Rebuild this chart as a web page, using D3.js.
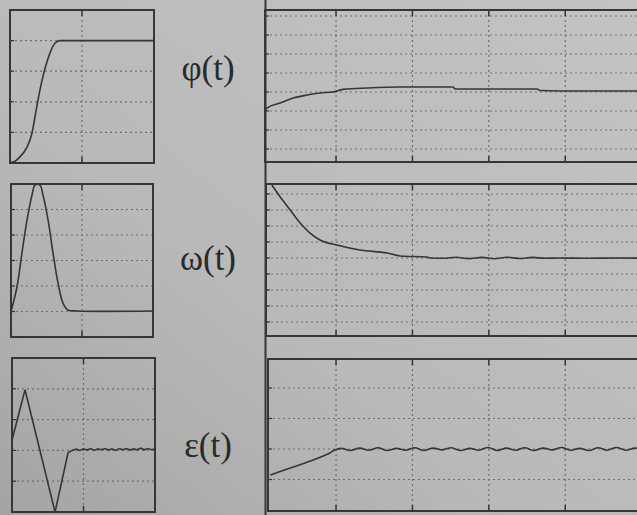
<!DOCTYPE html>
<html>
<head>
<meta charset="utf-8">
<script src="https://cdn.jsdelivr.net/npm/d3@7"></script>
<style>
  body { margin: 0; background: #b8b8b8; }
  svg { display: block; }
</style>
</head>
<body>
<div id="plot"></div>
<script>
// curves: [t, value], value counted in grid divisions
const phiSmall = [[0,0.02],[0.35,0.06],[0.69,0.2],[1.18,0.52],[1.53,0.98],[1.75,1.55],[1.97,2.12],[2.2,2.65],[2.45,3.12],[2.78,3.6],[3.13,3.92],[3.47,4.0],[10,4.0]];
const omegaSmall = [[0,1.0],[0.42,1.96],[0.77,3.29],[1.13,4.59],[1.48,5.57],[1.69,5.96],[2.04,5.96],[2.25,5.57],[2.61,4.59],[2.96,3.29],[3.31,2.12],[3.66,1.33],[4.01,1.06],[4.65,1.02],[10,1.02]];
const epsSmall = [[0,2.34],[0.91,3.97],[3.01,0.0],[3.92,1.92],[4.2,2.0],[4.5,2.04],[4.75,2.0],[5.0,2.05],[5.25,2.01],[5.5,2.06],[5.75,2.0],[6.0,2.05],[6.25,2.02],[6.5,2.06],[6.75,2.01],[7.0,2.05],[7.25,2.0],[7.5,2.06],[7.75,2.02],[8.0,2.06],[8.25,2.01],[8.5,2.05],[8.75,2.02],[9.0,2.07],[9.25,2.02],[9.5,2.06],[9.75,2.02],[10,2.05]];

const phiBig = [[0,3.05],[0.03,3.16],[0.2,3.42],[0.37,3.68],[0.55,3.84],[0.72,3.95],[0.89,4.0],[1.02,4.14],[1.34,4.21],[1.77,4.26],[2.46,4.26],[2.49,4.16],[3.56,4.16],[3.6,4.08],[4.12,4.05],[5,4.05]];
const omegaBig = [[0.09,9.56],[0.2,8.81],[0.33,8.0],[0.46,7.19],[0.59,6.56],[0.72,6.125],[0.94,5.81],[1.24,5.5],[1.6,5.31],[1.77,5.125],[2.12,5.06],[2.16,5.0],[2.34,4.98],[2.5,5.05],[2.67,4.96],[2.84,5.04],[3.0,4.95],[3.17,5.05],[3.34,4.97],[3.5,5.04],[3.67,4.98],[3.84,5.0],[4.2,4.98],[4.6,5.0],[5,4.98]];
const epsBig = [[0.07,1.15],[0.37,1.41],[0.63,1.64],[0.85,1.87],[0.9,1.95],[1.0,2.02],[1.12,1.95],[1.24,2.03],[1.36,1.96],[1.48,2.04],[1.6,1.95],[1.72,2.02],[1.84,1.96],[1.96,2.04],[2.08,1.95],[2.2,2.03],[2.32,1.97],[2.44,2.04],[2.56,1.95],[2.68,2.02],[2.8,1.96],[2.92,2.05],[3.04,1.95],[3.16,2.03],[3.28,1.96],[3.4,2.04],[3.52,1.95],[3.64,2.03],[3.76,1.97],[3.88,2.05],[4.0,1.96],[4.12,2.02],[4.24,1.95],[4.36,2.04],[4.48,1.96],[4.6,2.05],[4.72,1.96],[4.84,2.03],[4.96,1.97]];

// grid positions, in data units
const smallVGrid = [5];
const bigVGrid = [0.93, 1.93, 2.93, 3.93];
const labels = ["φ(t)", "ω(t)", "ε(t)"];

window.addEventListener("load", main)

function main(){

  const width = 637, height = 515;
  let svg = d3.select("#plot").append("svg")
    .attr("width", width)
    .attr("height", height);

  // scanned paper look
  let defs = svg.append("defs");
  let grad = defs.append("linearGradient").attr("id", "paper")
    .attr("x1", "1").attr("y1", "0").attr("x2", "0").attr("y2", "1");
  grad.append("stop").attr("offset", "0").attr("stop-color", "#c3c3c3");
  grad.append("stop").attr("offset", "0.6").attr("stop-color", "#b9b9b9");
  grad.append("stop").attr("offset", "1").attr("stop-color", "#a4a4a4");
  svg.append("rect").attr("width", width).attr("height", height).attr("fill", "url(#paper)");

  const ink = "#363636", gridInk = "#6f6f6f";

  // one scope screen
  function drawPanel(p){
    let x = d3.scaleLinear().domain(p.xDomain).range(p.xRange);
    let y = d3.scaleLinear().domain(p.yDomain).range(p.yRange);
    let g = svg.append("g");

    g.selectAll("line.h").data(p.hGrid).join("line").attr("class", "h")
      .attr("x1", p.frame[0]).attr("x2", p.frame[1])
      .attr("y1", d => y(d)).attr("y2", d => y(d))
      .attr("stroke", gridInk).attr("stroke-width", 1.2)
      .attr("stroke-dasharray", "2,3");
    g.selectAll("line.v").data(p.vGrid).join("line").attr("class", "v")
      .attr("x1", d => x(d)).attr("x2", d => x(d))
      .attr("y1", p.frame[2]).attr("y2", p.frame[3])
      .attr("stroke", gridInk).attr("stroke-width", 1.2)
      .attr("stroke-dasharray", "2,3");

    // little ticks on the left edge
    g.selectAll("line.t").data(p.hGrid).join("line").attr("class", "t")
      .attr("x1", p.frame[0]).attr("x2", p.frame[0] + 4)
      .attr("y1", d => y(d)).attr("y2", d => y(d))
      .attr("stroke", ink).attr("stroke-width", 1.2);
    // ticks on the vertical grid lines at top/bottom edge
    g.selectAll("line.vt").data(p.vGrid).join("line").attr("class", "vt")
      .attr("x1", d => x(d)).attr("x2", d => x(d))
      .attr("y1", p.frame[2]).attr("y2", p.frame[2] + 6)
      .attr("stroke", ink).attr("stroke-width", 1.5);
    g.selectAll("line.vb").data(p.vGrid).join("line").attr("class", "vb")
      .attr("x1", d => x(d)).attr("x2", d => x(d))
      .attr("y1", p.frame[3] - 6).attr("y2", p.frame[3])
      .attr("stroke", ink).attr("stroke-width", 1.5);

    g.append("rect")
      .attr("x", p.frame[0]).attr("y", p.frame[2])
      .attr("width", p.frame[1] - p.frame[0]).attr("height", p.frame[3] - p.frame[2])
      .attr("fill", "none").attr("stroke", ink).attr("stroke-width", 2);

    let line = d3.line().x(d => x(d[0])).y(d => y(d[1])).curve(p.curve);
    g.append("path").datum(p.data)
      .attr("d", line)
      .attr("fill", "none").attr("stroke", ink).attr("stroke-width", 1.6);
  }

  // left column: small screens
  drawPanel({data: phiSmall, xDomain: [0,10], xRange: [10,154], yDomain: [0,5], yRange: [163,10],
    hGrid: [1,2,3,4], vGrid: smallVGrid, frame: [10,154,10,163], curve: d3.curveMonotoneX});
  drawPanel({data: omegaSmall, xDomain: [0,10], xRange: [11,153], yDomain: [0,6], yRange: [337,184],
    hGrid: [1,2,3,4,5], vGrid: smallVGrid, frame: [11,153,184,337], curve: d3.curveCatmullRom});
  drawPanel({data: epsSmall, xDomain: [0,10], xRange: [12,155], yDomain: [0,5], yRange: [512,358],
    hGrid: [1,2,3,4], vGrid: smallVGrid, frame: [12,155,358,512], curve: d3.curveLinear});

  // right column: long screens, cut off by the page edge
  drawPanel({data: phiBig, xDomain: [0,5], xRange: [265,647], yDomain: [0,8], yRange: [168,16],
    hGrid: [1,2,3,4,5,6,7,8], vGrid: bigVGrid, frame: [265,660,10,162], curve: d3.curveMonotoneX});
  drawPanel({data: omegaBig, xDomain: [0,5], xRange: [265,647], yDomain: [0,9], yRange: [338,194],
    hGrid: [1,2,3,4,5,6,7,8,9], vGrid: bigVGrid, frame: [266,660,184,336], curve: d3.curveMonotoneX});
  drawPanel({data: epsBig, xDomain: [0,5], xRange: [265,647], yDomain: [0,5], yRange: [510,357.5],
    hGrid: [1,2,3,4], vGrid: bigVGrid, frame: [268,660,359,511], curve: d3.curveCatmullRom});

  // the long vertical edge running down the page
  svg.append("line").attr("x1", 265.5).attr("x2", 265.5).attr("y1", 0).attr("y2", height)
    .attr("stroke", ink).attr("stroke-width", 2);

  // signal names
  svg.selectAll("text.lbl").data(labels).join("text").attr("class", "lbl")
    .attr("x", 208)
    .attr("y", (d, i) => [80, 270, 457][i])
    .attr("text-anchor", "middle")
    .attr("font-family", "Liberation Serif, serif")
    .attr("font-size", 35)
    .attr("fill", "#2a2a2a")
    .text(d => d);
}
</script>
</body>
</html>
